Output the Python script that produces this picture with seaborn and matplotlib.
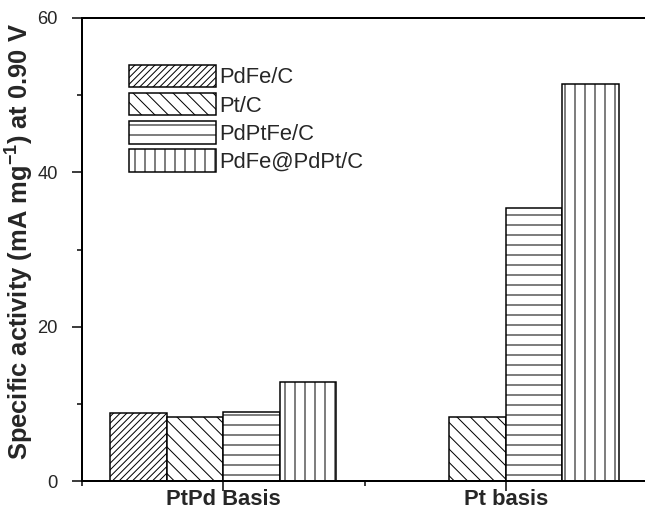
import numpy as np
import pandas as pd
import matplotlib
matplotlib.use("Agg")
import matplotlib.pyplot as plt
import seaborn as sns
from matplotlib.ticker import MultipleLocator, FixedLocator

# ---- data ----
categories = ["PtPd Basis", "Pt basis"]
series_names = ["PdFe/C", "Pt/C", "PdPtFe/C", "PdFe@PdPt/C"]
pdfe_c = [8.8, None]
pt_c = [8.3, 8.3]
pdptfe_c = [8.9, 35.4]
pdfe_pdpt_c = [12.8, 51.4]
hatches = ["//////", "\\\\\\", "--", "||"]

rows = []
for name, vals in zip(series_names, [pdfe_c, pt_c, pdptfe_c, pdfe_pdpt_c]):
    for cat, v in zip(categories, vals):
        if v is not None:
            rows.append({"basis": cat, "catalyst": name, "value": v})
df = pd.DataFrame(rows)

sns.set_theme(style="white")
plt.rcParams["font.family"] = ["Liberation Sans", "DejaVu Sans"]
plt.rcParams["mathtext.fontset"] = "custom"
plt.rcParams["mathtext.rm"] = "Liberation Sans:bold"
plt.rcParams["mathtext.default"] = "rm"
plt.rcParams["hatch.linewidth"] = 0.6
plt.rcParams["hatch.color"] = "black"

DPI = 120
fig = plt.figure(figsize=(645 / DPI, 519 / DPI), dpi=DPI)
ax = fig.add_axes([82 / 645, 38 / 519, 565 / 645, 463 / 519])

sns.barplot(data=df, x="basis", y="value", hue="catalyst",
            order=categories, hue_order=series_names,
            palette=["white"] * 4, edgecolor="black", linewidth=0.9,
            width=0.8, legend=False, ax=ax, errorbar=None)

for cont, h in zip(ax.containers, hatches):
    for bar in cont:
        bar.set_hatch(h)
        bar.set_edgecolor("black")

ax.set_xlim(-0.5, 1.5)
ax.set_ylim(0, 60)
ax.yaxis.set_major_locator(MultipleLocator(20))
ax.yaxis.set_minor_locator(MultipleLocator(10))
ax.xaxis.set_minor_locator(FixedLocator([-0.5, 0.5, 1.5]))

for side in ["left", "bottom", "top"]:
    ax.spines[side].set_visible(True)
    ax.spines[side].set_linewidth(1.2)
    ax.spines[side].set_color("black")
ax.spines["right"].set_visible(False)

ax.tick_params(axis="both", which="major", direction="out", length=6, width=0.9,
               color="black", bottom=True, left=True)
ax.tick_params(axis="both", which="minor", direction="out", length=3, width=0.9,
               color="black", bottom=True, left=True)
ax.tick_params(axis="y", labelsize=11, pad=8.5)
ax.tick_params(axis="x", which="major", labelsize=13.2, pad=-1)
for lab in ax.get_xticklabels():
    lab.set_fontweight("bold")

ax.set_xlabel("")
ax.set_ylabel("Specific activity (mA mg$^{-1}$) at 0.90 V",
              fontsize=15.3, fontweight="bold")
ax.yaxis.set_label_coords(-0.082, 0.518)

ax.legend(ax.containers, series_names, loc="upper left",
          bbox_to_anchor=(0.083, 0.899), frameon=False, fontsize=13.2,
          handlelength=3.95, handleheight=1.2, labelspacing=0.2,
          handletextpad=0.15, borderpad=0, borderaxespad=0)

fig.savefig("out.png", dpi=DPI, facecolor="white")
